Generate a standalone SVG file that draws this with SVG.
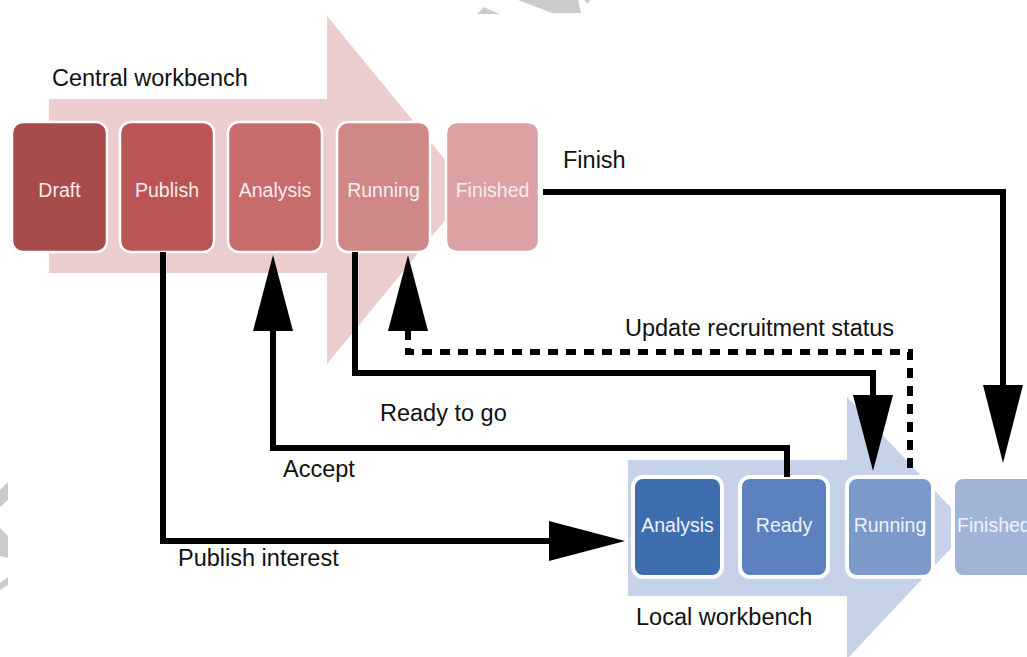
<svg xmlns="http://www.w3.org/2000/svg" width="1027" height="657" viewBox="0 0 1027 657">
<style>
.lbl{font-family:"Liberation Sans",Arial,sans-serif;font-size:23.5px;fill:#111}
.bt{font-family:"Liberation Sans",Arial,sans-serif;font-size:19.5px;fill:#f6ecec;text-anchor:middle}
.bb{font-family:"Liberation Sans",Arial,sans-serif;font-size:19.5px;fill:#eef2fa;text-anchor:middle}
.rb{stroke:#fff;stroke-width:2.5}
.lb{stroke:#fff;stroke-width:4}
.ln{fill:none;stroke:#000;stroke-width:6;stroke-linejoin:miter}
.dash{fill:none;stroke:#000;stroke-width:6;stroke-dasharray:10 8}
.ah{fill:#000}
.wm{fill:#cbcbcd}
</style>
<rect width="1027" height="657" fill="#fff"/>
<g id="watermark">
<polygon class="wm" points="477,14 484,7 499,14"/>
<polygon class="wm" points="518,0 578,0 581,13 552,13"/>
<polygon class="wm" points="584,0 590,0 588,4"/>
<polygon class="wm" points="0,490 8,482 8,500 0,507"/>
<polygon class="wm" points="0,528 8,536 8,558 0,556"/>
<polygon class="wm" points="0,583 8,577 8,585 0,590"/>
</g>
<g id="central-arrow">
<polygon fill="#ebcdce" points="49,99 327,99 327,16 470,190 327,364 327,273 49,273"/>
</g>
<g id="local-arrow">
<polygon fill="#c6d2e7" points="628,460 847,460 847,397 970,528 847,659 847,596 628,596"/>
</g>
<text class="lbl" x="52" y="86">Central workbench</text>
<g id="c-draft"><rect class="rb" x="12" y="122" width="95" height="130" rx="11" fill="#a84b4b"/><text class="bt" x="59.5" y="197">Draft</text></g>
<g id="c-publish"><rect class="rb" x="120" y="122" width="94" height="130" rx="11" fill="#bb5555"/><text class="bt" x="167" y="197">Publish</text></g>
<g id="c-analysis"><rect class="rb" x="228" y="122" width="94" height="130" rx="11" fill="#c86b6b"/><text class="bt" x="275" y="197">Analysis</text></g>
<g id="c-running"><rect class="rb" x="337" y="122" width="93" height="130" rx="11" fill="#cf8788"/><text class="bt" x="383.5" y="197">Running</text></g>
<g id="c-finished"><rect class="rb" x="446" y="122" width="93" height="130" rx="11" fill="#dca1a2"/><text class="bt" x="492.5" y="197">Finished</text></g>
<g id="l-analysis"><rect class="lb" x="633" y="477" width="89" height="100" rx="10" fill="#3f6eae"/><text class="bb" x="677.5" y="532">Analysis</text></g>
<g id="l-ready"><rect class="lb" x="740" y="477" width="88" height="100" rx="10" fill="#5b82bf"/><text class="bb" x="784" y="532">Ready</text></g>
<g id="l-running"><rect class="lb" x="847" y="477" width="86" height="100" rx="10" fill="#7b99c9"/><text class="bb" x="890" y="532">Running</text></g>
<g id="l-finished"><rect class="lb" x="953" y="477" width="90" height="100" rx="10" fill="#a1b4d8"/><text class="bb" x="957" y="532" style="text-anchor:start">Finished</text></g>
<text class="lbl" x="636" y="625">Local workbench</text>
<g id="connectors">
<polyline class="ln" points="543,192 1003,192 1003,390"/>
<polygon class="ah" points="983,385 1023,385 1003,463"/>
<polyline class="ln" points="355,252 355,373 873,373 873,400"/>
<polygon class="ah" points="853,395 893,395 873,471"/>
<polyline class="ln" points="787,477 787,448 273,448 273,325"/>
<polygon class="ah" points="253,331 293,331 273,255"/>
<polyline class="dash" points="910,468 910,352 408,352 408,330"/>
<polygon class="ah" points="388,331 428,331 408,255"/>
<polyline class="ln" points="163,252 163,541 555,541"/>
<polygon class="ah" points="549,521 549,561 625,541"/>
</g>
<text class="lbl" x="563" y="168">Finish</text>
<text class="lbl" x="625" y="336">Update recruitment status</text>
<text class="lbl" x="380" y="421">Ready to go</text>
<text class="lbl" x="283" y="477">Accept</text>
<text class="lbl" x="178" y="566">Publish interest</text>
</svg>
